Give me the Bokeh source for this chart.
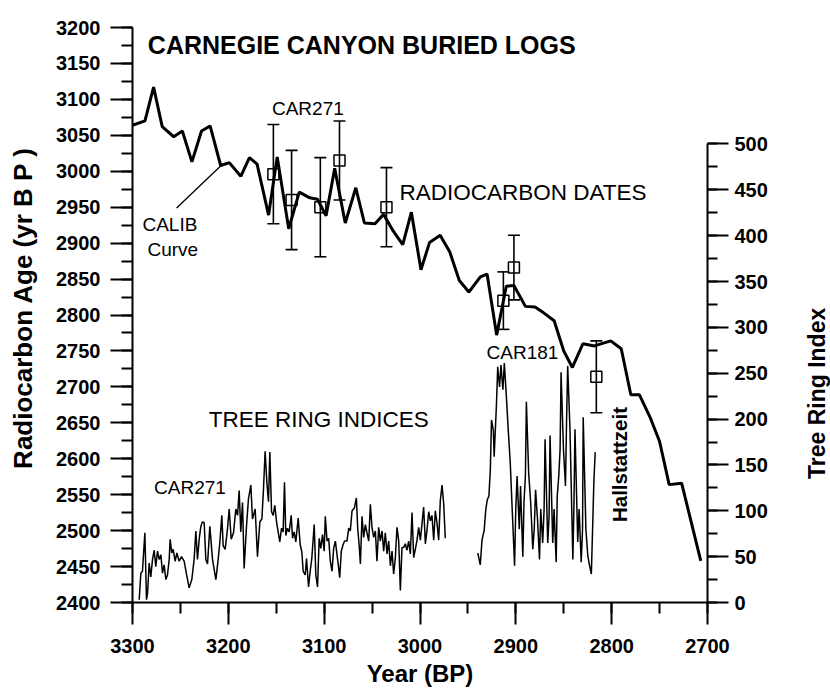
import math
from bokeh.plotting import figure
from bokeh.layouts import row
from bokeh.models import (Range1d, LinearAxis, SingleIntervalTicker, ColumnDataSource,
                          Whisker, TeeHead, Label)
from bokeh.embed import file_html
from bokeh.resources import INLINE

FONT = "Liberation Sans"

# ---------------- data ----------------
calib_year = [3300, 3287, 3278, 3269, 3257, 3248, 3238, 3228, 3219, 3208, 3199, 3187, 3178, 3170,
              3158, 3149, 3137, 3126, 3115, 3107, 3098, 3089, 3078, 3067, 3058, 3047, 3038, 3028,
              3018, 3009, 2999, 2990, 2979, 2969, 2959, 2949, 2937, 2930, 2920, 2910, 2902, 2890,
              2880, 2871, 2860, 2850, 2841, 2830, 2818, 2801, 2790, 2780, 2771, 2760, 2750, 2740,
              2727, 2707]
calib_age = [3064, 3070, 3117, 3062, 3048, 3056, 3013, 3056, 3063, 3008, 3012, 2993, 3019, 3010,
             2939, 3020, 2920, 2971, 2963, 2961, 2938, 3004, 2928, 2977, 2928, 2927, 2940, 2917,
             2898, 2943, 2863, 2901, 2911, 2888, 2848, 2832, 2853, 2857, 2772, 2840, 2841, 2812,
             2811, 2803, 2792, 2750, 2727, 2760, 2757, 2764, 2753, 2689, 2689, 2658, 2624, 2564,
             2566, 2458]

date_year = [3153, 3134, 3104, 3084, 3035, 2913, 2902, 2816]
date_age = [2996, 2960, 2950, 3015, 2950, 2820, 2866, 2714]
date_err = [69, 69, 69, 55, 55, 40, 45, 50]

car271_year = [3293.0, 3291.3, 3289.6, 3287.1, 3285.4, 3284.3, 3282.6, 3280.9, 3279.1, 3277.4,
               3275.7, 3273.9, 3272.2, 3270.4, 3268.7, 3267.0, 3265.2, 3263.5, 3261.7, 3260.7,
               3259.0, 3257.6, 3255.5, 3253.7, 3251.3, 3248.9, 3246.1, 3243.3, 3240.9, 3238.1,
               3235.7, 3233.9, 3232.2, 3230.4, 3228.7, 3227.0, 3225.2, 3223.5, 3221.7, 3219.3,
               3216.5, 3214.8, 3213.0, 3210.6, 3208.9, 3206.8, 3205.4, 3203.3, 3200.9, 3199.1,
               3197.0, 3194.6, 3192.2, 3190.4, 3188.7, 3187.0, 3185.2, 3183.5, 3181.0, 3179.0,
               3176.5, 3174.8, 3172.0, 3169.6, 3167.1, 3165.0, 3163.3, 3161.6, 3159.8, 3158.1,
               3156.7, 3154.9, 3153.2, 3151.5, 3149.7, 3148.0, 3146.3, 3144.5, 3142.8, 3141.4,
               3140.0, 3138.3, 3136.5, 3134.4, 3133.0, 3131.3, 3129.6, 3127.1, 3125.0, 3123.3,
               3121.9, 3119.8, 3118.4, 3116.3, 3114.6, 3112.9, 3110.4, 3108.7, 3106.9, 3105.2,
               3103.5, 3101.7, 3100.0, 3098.8, 3097.0, 3095.3, 3093.6, 3091.8, 3090.1, 3088.3,
               3086.6, 3084.9, 3083.8, 3082.1, 3080.3, 3078.6, 3076.2, 3074.4, 3072.7, 3070.9,
               3068.5, 3066.4, 3065.0, 3063.3, 3062.2, 3060.5, 3058.8, 3057.0, 3055.3, 3053.5,
               3051.8, 3050.1, 3048.3, 3046.6, 3044.9, 3043.1, 3041.4, 3039.6, 3037.9, 3036.2,
               3034.4, 3032.7, 3030.9, 3029.2, 3027.5, 3025.7, 3024.0, 3022.2, 3020.5, 3018.8,
               3017.0, 3015.3, 3013.6, 3011.8, 3010.1, 3008.3, 3006.6, 3004.9, 3003.1, 3001.4,
               2999.6, 2997.9, 2996.2, 2994.4, 2992.7, 2990.9, 2989.2, 2987.5, 2985.7, 2984.0,
               2982.2, 2980.5, 2978.8, 2977.0, 2975.3, 2973.6]
car271_index = [3, 32, 34, 76, 3, 10, 43, 28, 47, 57,
                39, 56, 47, 52, 32, 41, 25, 30, 47, 69,
                54, 58, 45, 54, 45, 50, 45, 29, 16, 25,
                47, 78, 47, 69, 83, 88, 87, 47, 42, 83,
                47, 36, 25, 47, 65, 95, 62, 58, 80, 102,
                69, 76, 102, 95, 122, 77, 109, 37, 84, 113,
                128, 91, 102, 50, 88, 91, 124, 165, 131, 110,
                164, 99, 95, 106, 88, 77, 66, 81, 77, 131,
                73, 81, 77, 95, 70, 77, 66, 92, 63, 55,
                34, 30, 48, 17, 34, 48, 85, 30, 17, 70,
                59, 74, 56, 94, 67, 70, 45, 34, 59, 67,
                52, 38, 27, 56, 63, 67, 67, 81, 78, 100,
                103, 114, 81, 60, 42, 94, 71, 85, 76, 67,
                107, 82, 71, 78, 45, 82, 67, 78, 56, 76,
                53, 67, 40, 56, 31, 49, 82, 67, 13, 60,
                60, 64, 57, 67, 53, 98, 49, 58, 68, 82,
                68, 86, 104, 64, 79, 99, 89, 95, 68, 100,
                86, 68, 111, 128, 108, 70]

car181_year = [2939.7, 2937.1, 2935.3, 2933.0, 2931.4, 2929.8, 2928.1, 2926.6, 2925.4, 2923.5,
               2922.6, 2921.7, 2920.3, 2918.9, 2917.0, 2915.5, 2913.5, 2912.0, 2909.9, 2907.9,
               2905.8, 2903.5, 2901.3, 2900.1, 2898.7, 2896.4, 2895.1, 2892.7, 2891.5, 2890.0,
               2889.0, 2886.6, 2884.5, 2882.3, 2880.8, 2879.4, 2877.4, 2875.3, 2874.0, 2872.0,
               2870.5, 2869.5, 2866.7, 2865.3, 2864.3, 2861.5, 2860.1, 2857.9, 2856.8, 2855.2,
               2853.8, 2852.8, 2850.3, 2848.2, 2847.1, 2845.9, 2843.5, 2840.5, 2839.3, 2838.3,
               2835.4, 2834.0, 2831.8, 2830.4, 2829.7, 2826.9, 2824.9, 2823.0, 2821.2, 2819.9,
               2818.6, 2817.2]
car181_index = [54, 41, 68, 79, 101, 112, 116, 145, 199, 188,
                159, 181, 214, 257, 235, 259, 232, 261, 225, 188,
                152, 94, 40, 101, 138, 80, 127, 50, 109, 138,
                219, 141, 109, 58, 80, 123, 91, 47, 102, 65,
                102, 178, 65, 94, 182, 65, 102, 44, 116, 138,
                167, 251, 167, 127, 196, 258, 189, 47, 109, 189,
                66, 102, 44, 80, 202, 80, 51, 40, 31, 80,
                131, 164]

x_ticks_interval = 100
left_ticks_interval = 50
right_ticks_interval = 50

# text annotations: (text, x, y, align, size, weight, angle)
annotations = [
    ("CARNEGIE CANYON BURIED LOGS", 3284, 3175, "left", "25px", "bold", 0),
    ("CAR271", 3117, 3087, "center", "19px", "normal", 0),
    ("RADIOCARBON DATES", 3021.5, 2971, "left", "22.5px", "normal", 0),
    ("CALIB", 3261, 2926, "center", "19px", "normal", 0),
    ("Curve", 3258, 2891, "center", "19px", "normal", 0),
    ("TREE RING INDICES", 3220.5, 2655, "left", "22.5px", "normal", 0),
    ("CAR271", 3277.5, 2560, "left", "19px", "normal", 0),
    ("CAR181", 2930.5, 2748.5, "left", "19px", "normal", 0),
    ("Hallstattzeit", 2792, 2592, "center", "20.5px", "bold", 90),
]
pointer_x = [3254, 3207.5]
pointer_y = [2949, 3008]
left_title = "Radiocarbon Age (yr B P )"
left_title_pos = (22, 2810)    # in the left strip (px across, radiocarbon units)
right_title = "Tree Ring Index"
right_title_pos = (26, 228)    # in the right strip (px across, tree-ring units)

TOP, BOTTOM = 27, 87
LEFT_STRIP, RIGHT_STRIP = 44, 40


def strip(width, y_rng):
    s = figure(width=width, height=689, x_range=Range1d(0, width), y_range=y_rng,
               x_axis_location=None, y_axis_location=None,
               output_backend="svg", toolbar_location=None,
               min_border_left=0, min_border_right=0,
               min_border_top=TOP, min_border_bottom=BOTTOM)
    s.outline_line_color = None
    s.grid.visible = False
    s.background_fill_color = "white"
    s.border_fill_color = "white"
    return s


# ---------------- main figure ----------------
p = figure(width=830 - LEFT_STRIP - RIGHT_STRIP, height=689,
           x_range=Range1d(3300, 2700), y_range=Range1d(2400, 3200),
           output_backend="svg", toolbar_location=None,
           min_border_left=132 - LEFT_STRIP, min_border_right=83,
           min_border_top=TOP, min_border_bottom=BOTTOM)
p.outline_line_color = None
p.grid.visible = False
p.background_fill_color = "white"
p.border_fill_color = "white"
p.extra_y_ranges = {"tr": Range1d(0, 627)}


def style_axis(ax, tick_out, minor_out, standoff, label_standoff, label_size):
    ax.axis_line_width = 2
    ax.axis_line_color = "black"
    ax.major_tick_in = 0
    ax.minor_tick_in = 0
    ax.major_tick_out = tick_out
    ax.minor_tick_out = minor_out
    ax.major_tick_line_width = 2
    ax.minor_tick_line_width = 2
    ax.major_tick_line_color = "black"
    ax.minor_tick_line_color = "black"
    ax.major_label_text_font = FONT
    ax.major_label_text_font_style = "bold"
    ax.major_label_text_font_size = "20px"
    ax.major_label_text_color = "black"
    ax.major_label_standoff = standoff
    ax.axis_label_text_font = FONT
    ax.axis_label_text_font_style = "bold"
    ax.axis_label_text_font_size = label_size
    ax.axis_label_text_color = "black"
    ax.axis_label_standoff = label_standoff


xa = p.xaxis[0]
xa.ticker = SingleIntervalTicker(interval=x_ticks_interval, num_minor_ticks=2)
xa.axis_label = "Year (BP)"
style_axis(xa, 22, 11, 14, 4, "24px")

ya = p.yaxis[0]
ya.ticker = SingleIntervalTicker(interval=left_ticks_interval, num_minor_ticks=2)
style_axis(ya, 22, 11, 10, 0, "26px")

ra = LinearAxis(y_range_name="tr", bounds=(0, 500),
                ticker=SingleIntervalTicker(interval=right_ticks_interval, num_minor_ticks=2))
style_axis(ra, 21, 10, 6, 0, "23px")
p.add_layout(ra, "right")

# tree-ring indices
p.line(car271_year, car271_index, y_range_name="tr", line_color="black", line_width=1.5)
p.line(car181_year, car181_index, y_range_name="tr", line_color="black", line_width=1.5)

# calibration curve
p.line(calib_year, calib_age, line_color="black", line_width=3)

# radiocarbon dates with error bars
src = ColumnDataSource(dict(
    x=date_year, y=date_age,
    upper=[a + e for a, e in zip(date_age, date_err)],
    lower=[a - e for a, e in zip(date_age, date_err)],
))
wh = Whisker(source=src, base="x", upper="upper", lower="lower", dimension="height",
             line_color="black", line_width=1.6,
             upper_head=TeeHead(size=12, line_width=1.6, line_color="black"),
             lower_head=TeeHead(size=12, line_width=1.6, line_color="black"))
p.add_layout(wh)
p.scatter("x", "y", source=src, marker="square", size=11, fill_color=None,
          line_color="black", line_width=1.5)

# pointer from "CALIB Curve" label
p.line(pointer_x, pointer_y, line_color="black", line_width=1.3)

for txt, x, y, align, size, weight, ang in annotations:
    p.add_layout(Label(x=x, y=y, text=txt, text_align=align, text_baseline="middle",
                       text_font=FONT, text_font_size=size, text_font_style=weight,
                       text_color="black", angle=ang, angle_units="deg"))

# ---------------- strips holding the vertical axis titles ----------------
left = strip(LEFT_STRIP, Range1d(2400, 3200))
left.add_layout(Label(x=left_title_pos[0], y=left_title_pos[1], text=left_title,
                      text_align="center", text_baseline="middle", angle=90, angle_units="deg",
                      text_font=FONT, text_font_size="26px", text_font_style="bold",
                      text_color="black"))

right = strip(RIGHT_STRIP, Range1d(0, 627))
right.add_layout(Label(x=right_title_pos[0], y=right_title_pos[1], text=right_title,
                       text_align="center", text_baseline="middle", angle=90, angle_units="deg",
                       text_font=FONT, text_font_size="23px", text_font_style="bold",
                       text_color="black"))

layout = row(left, p, right)
open("out.html", "w").write(file_html(layout, INLINE))
